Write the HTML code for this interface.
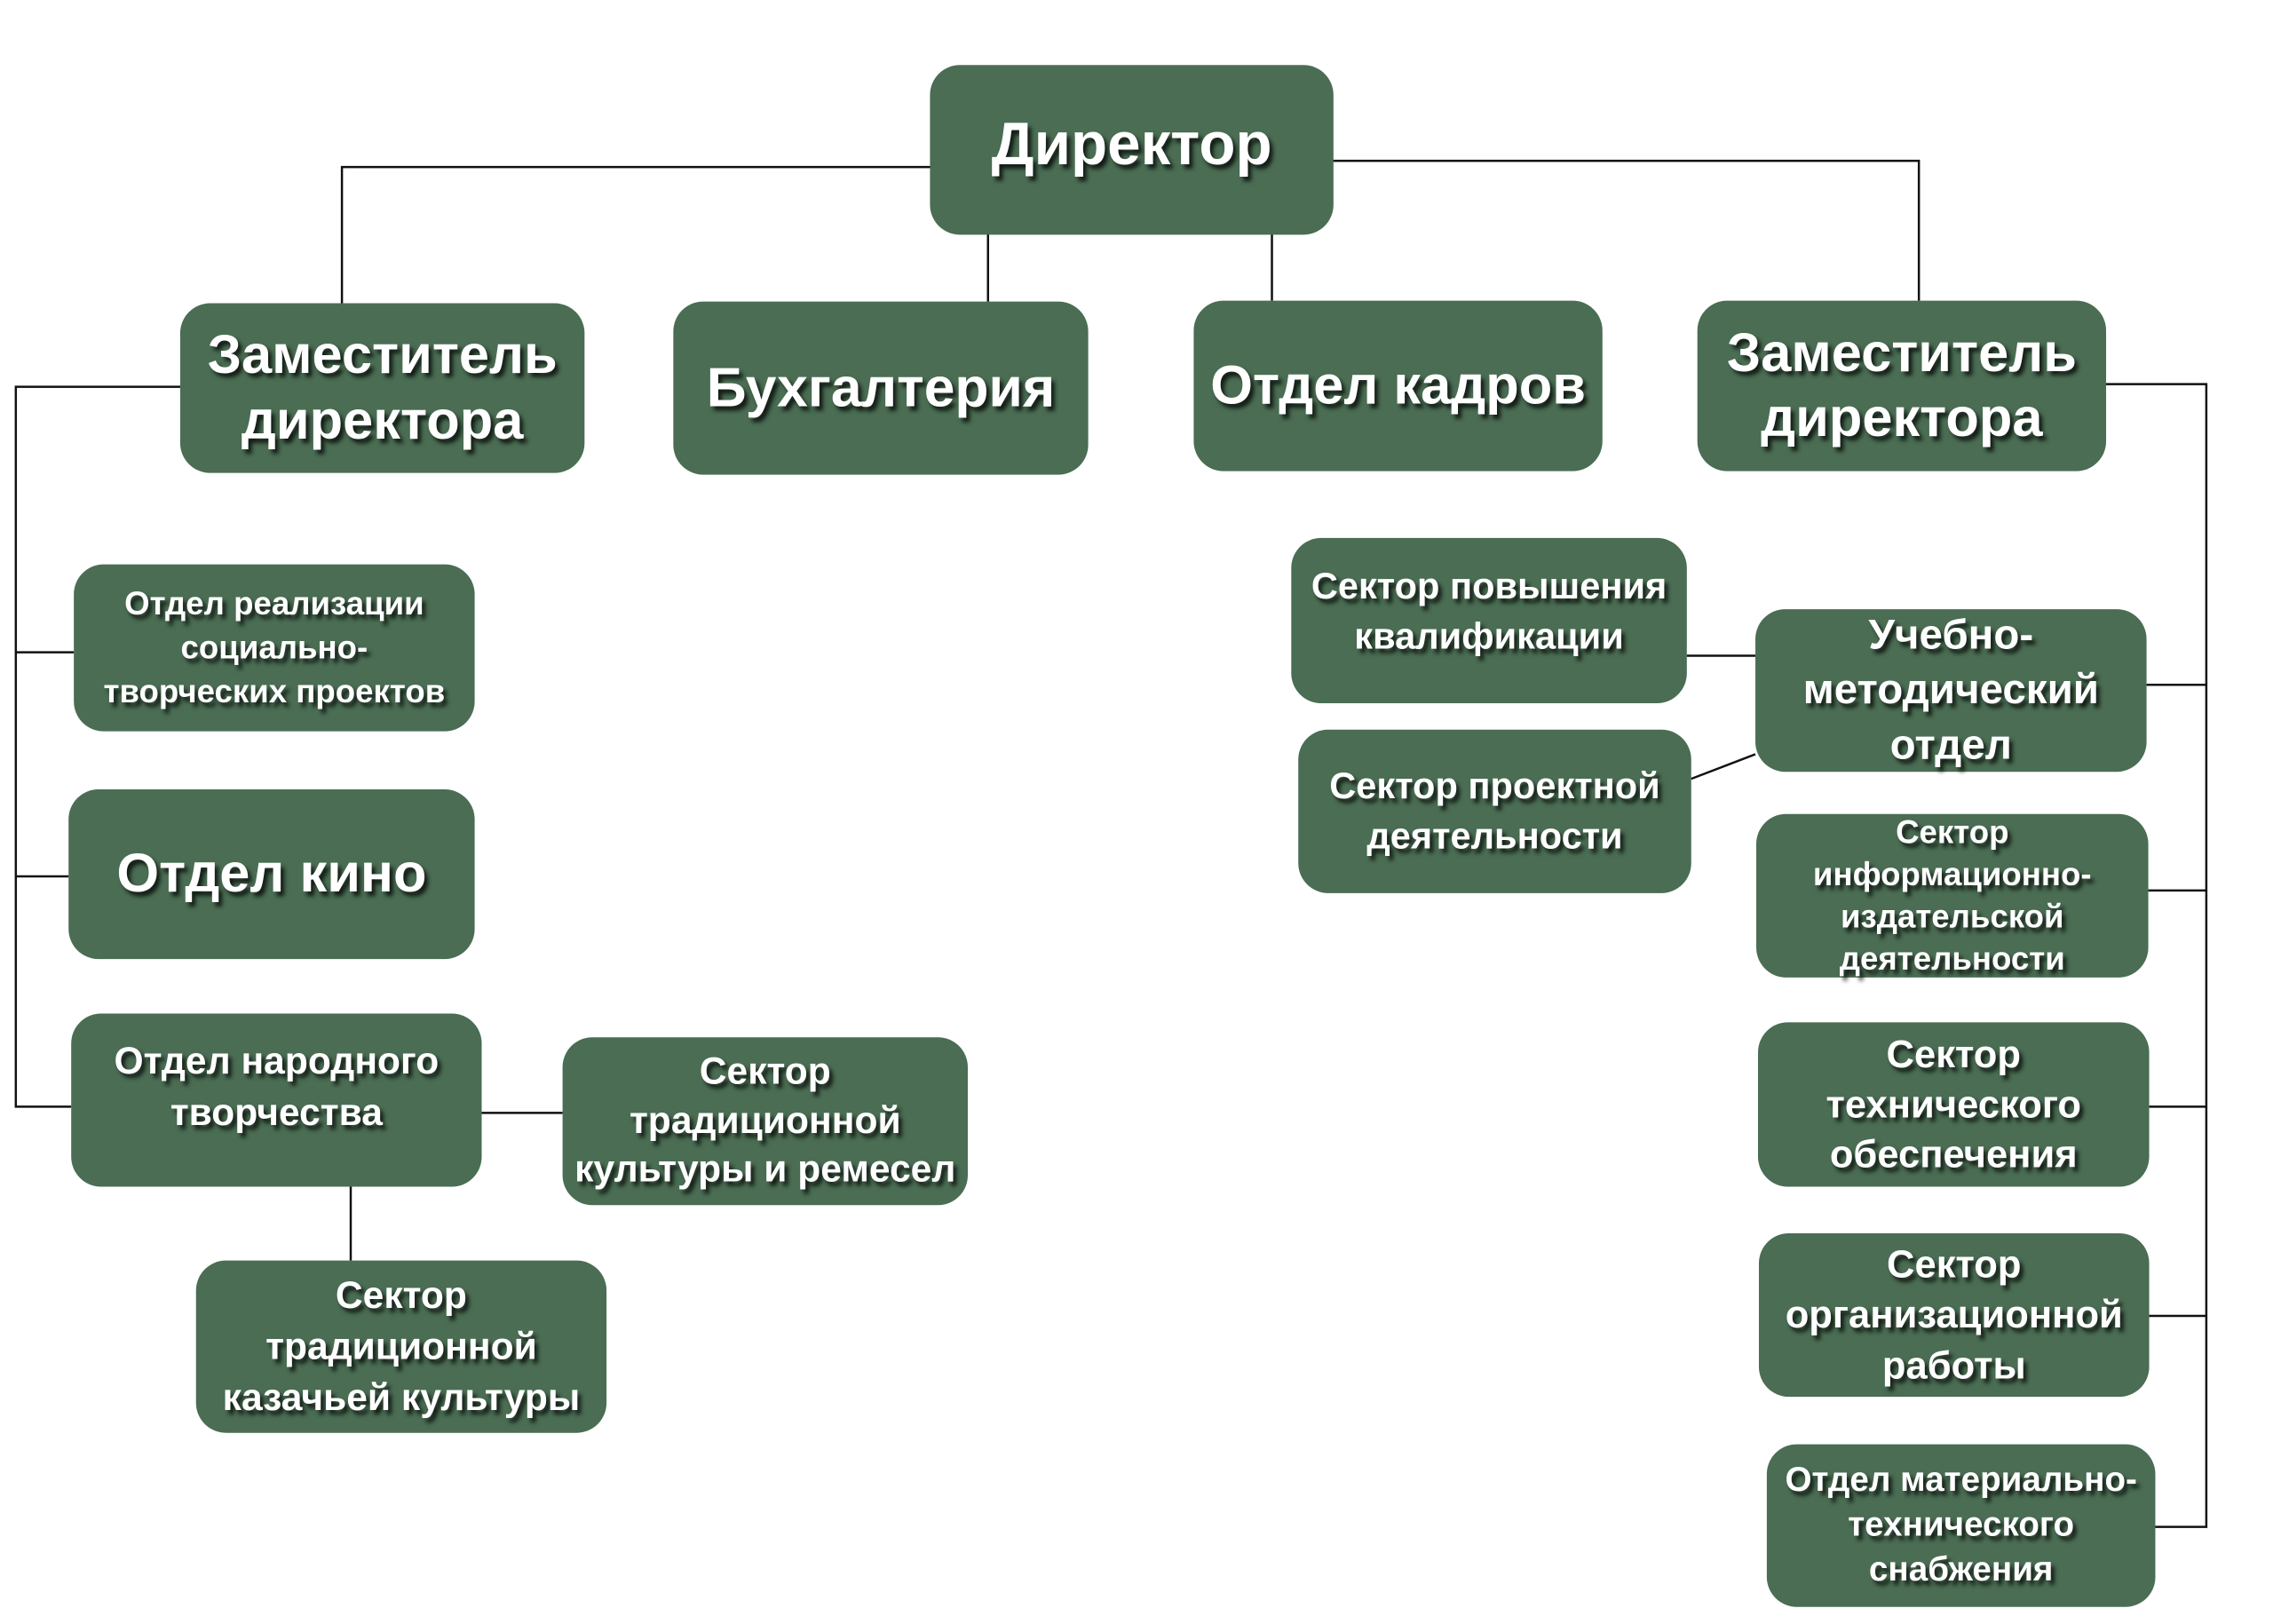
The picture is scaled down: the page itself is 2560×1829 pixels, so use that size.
<!DOCTYPE html>
<html><head><meta charset="utf-8"><style>
html,body{margin:0;padding:0;background:#fff;}
body{width:2560px;height:1829px;position:relative;overflow:hidden;font-family:"Liberation Sans","DejaVu Sans",sans-serif;}
#w{position:absolute;left:0;top:0;width:2560px;height:1829px;transform:scale(0.99);transform-origin:0 0;}
.b{position:absolute;background:#4a6d53;border-radius:34px;display:flex;align-items:center;justify-content:center;text-align:center;color:#fff;font-weight:bold;text-shadow:4px 5px 5px rgba(0,0,0,0.75);line-height:1.2;box-sizing:border-box;padding:0 4px;white-space:nowrap;}
svg{position:absolute;left:0;top:0;}
</style></head><body><div id="w">
<svg width="2560" height="1829">
<g stroke="#111" stroke-width="2.5" fill="none">
<polyline points="1063,190 389,190 389,345"/>
<line x1="1124" y1="266" x2="1124" y2="343"/>
<line x1="1447" y1="266" x2="1447" y2="342"/>
<polyline points="1509,183 2183,183 2183,342"/>
<polyline points="205,440 18,440 18,1259 81,1259"/>
<line x1="18" y1="742" x2="84" y2="742"/>
<line x1="18" y1="997" x2="78" y2="997"/>
<line x1="548" y1="1266" x2="640" y2="1266"/>
<line x1="399" y1="1350" x2="399" y2="1434"/>
<polyline points="2396,437 2510,437 2510,1737 2452,1737"/>
<line x1="2442" y1="779" x2="2510" y2="779"/>
<line x1="2444" y1="1013" x2="2510" y2="1013"/>
<line x1="2445" y1="1259" x2="2510" y2="1259"/>
<line x1="2445" y1="1497" x2="2510" y2="1497"/>
<line x1="1919" y1="746" x2="1997" y2="746"/>
<line x1="1924" y1="886" x2="1997" y2="858"/>
</g></svg>
<div class="b" style="left:1058px;top:74px;width:459px;height:193px;font-size:68px;padding-bottom:12px;">Директор</div>
<div class="b" style="left:205px;top:345px;width:460px;height:193px;font-size:62px;">Заместитель<br>директора</div>
<div class="b" style="left:766px;top:343px;width:472px;height:197px;font-size:63px;">Бухгалтерия</div>
<div class="b" style="left:1358px;top:342px;width:465px;height:194px;font-size:62px;">Отдел кадров</div>
<div class="b" style="left:1931px;top:342px;width:465px;height:194px;font-size:62px;">Заместитель<br>директора</div>
<div class="b" style="left:84px;top:642px;width:456px;height:190px;font-size:37px;line-height:1.35;">Отдел реализации<br>социально-<br>творческих проектов</div>
<div class="b" style="left:78px;top:898px;width:462px;height:193px;font-size:62px;">Отдел кино</div>
<div class="b" style="left:81px;top:1153px;width:467px;height:197px;font-size:43px;line-height:1.35;padding-bottom:30px;">Отдел народного<br>творчества</div>
<div class="b" style="left:640px;top:1180px;width:461px;height:191px;font-size:43px;line-height:1.3;">Сектор<br>традиционной<br>культуры и ремесел</div>
<div class="b" style="left:223px;top:1434px;width:467px;height:196px;font-size:43px;line-height:1.35;">Сектор<br>традиционной<br>казачьей культуры</div>
<div class="b" style="left:1469px;top:612px;width:450px;height:188px;font-size:42px;line-height:1.35;padding-bottom:20px;">Сектор повышения<br>квалификации</div>
<div class="b" style="left:1477px;top:830px;width:447px;height:186px;font-size:42px;line-height:1.35;">Сектор проектной<br>деятельности</div>
<div class="b" style="left:1997px;top:693px;width:445px;height:185px;font-size:48px;line-height:1.3;">Учебно-<br>методический<br>отдел</div>
<div class="b" style="left:1998px;top:926px;width:446px;height:186px;font-size:37px;line-height:1.3;">Сектор<br>информационно-<br>издательской<br>деятельности</div>
<div class="b" style="left:2000px;top:1163px;width:445px;height:187px;font-size:44px;line-height:1.3;">Сектор<br>технического<br>обеспечения</div>
<div class="b" style="left:2001px;top:1403px;width:444px;height:186px;font-size:44px;line-height:1.3;">Сектор<br>организационной<br>работы</div>
<div class="b" style="left:2010px;top:1643px;width:442px;height:185px;font-size:39px;line-height:1.3;">Отдел материально-<br>технического<br>снабжения</div>
</div></body></html>
